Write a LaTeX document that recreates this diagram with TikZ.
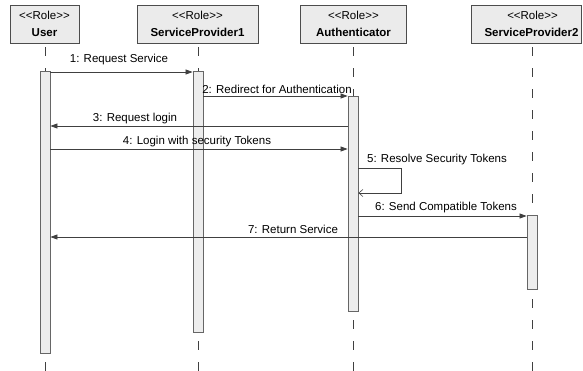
\documentclass[tikz,border=0pt]{standalone}
\usepackage{fontspec}
\setmainfont{Liberation Sans}
\usetikzlibrary{arrows.meta}
\begin{document}
\begin{tikzpicture}[x=1pt,y=-1pt,
  role/.style={draw=black!70,fill=black!8,line width=0.9pt,inner sep=0pt,align=center,
    font=\fontsize{11.5}{17}\selectfont},
  bar/.style={draw=black!60,fill=black!7,line width=0.8pt,inner sep=0pt,minimum width=10pt,anchor=north},
  life/.style={draw=black!75,line width=0.7pt,dash pattern=on 9pt off 12pt},
  msg/.style={draw=black!75,line width=0.7pt,-{Triangle[length=7pt,width=5pt]}},
  ret/.style={draw=black!75,line width=0.6pt,-{Straight Barb[length=4pt,width=7pt]}},
  txt/.style={font=\fontsize{11.5}{14}\selectfont,anchor=base,inner sep=0pt}]
\useasboundingbox (0,0) rectangle (583,370);
\coordinate (bot) at (0,372);
\node[role,minimum width=69pt,minimum height=38pt] (user) at (44.5,24) {<{}<Role>{}>\\\textbf{User}};
\node[role,minimum width=121pt,minimum height=38pt] (sp1) at (197.5,24) {<{}<Role>{}>\\\textbf{ServiceProvider1}};
\node[role,minimum width=106pt,minimum height=38pt] (auth) at (353.5,24) {<{}<Role>{}>\\\textbf{Authenticator}};
\node[role,minimum width=110pt,minimum height=38pt] (sp2) at (526.5,24) {\hspace*{12pt}<{}<Role>{}>\\\hspace*{10pt}\textbf{ServiceProvider2}};
\draw[life] ([yshift=-4pt]user.south -| 45,0) -- (bot -| 45,0);
\draw[life] ([yshift=-4pt]sp1.south -| 198,0) -- (bot -| 198,0);
\draw[life] ([yshift=-4pt]auth.south -| 353,0) -- (bot -| 353,0);
\draw[life] ([yshift=-4pt]sp2.south -| 532,0) -- (bot -| 532,0);
\node[bar,minimum height=282pt] (userbar) at (45,71) {};
\node[bar,minimum height=261pt] (sp1bar) at (198,71) {};
\node[bar,minimum height=215pt] (authbar) at (353,96) {};
\node[bar,minimum height=74pt] (sp2bar) at (532,215) {};
\coordinate (m1) at (0,72);
\coordinate (m2) at (0,96);
\coordinate (m3) at (0,126);
\coordinate (m4) at (0,149);
\coordinate (m5a) at (401,168);
\coordinate (m5b) at (401,193);
\coordinate (m6) at (0,216);
\coordinate (m7) at (0,237);
\draw[msg] (userbar.east |- m1) -- (sp1bar.west |- m1);
\draw[msg] (sp1bar.east |- m2) -- (authbar.west |- m2);
\draw[msg] (authbar.west |- m3) -- (userbar.east |- m3);
\draw[msg] (userbar.east |- m4) -- (authbar.west |- m4);
\draw[ret] (authbar.east |- m5a) -- (m5a) -- (m5b) -- (authbar.east |- m5b);
\draw[msg] (authbar.east |- m6) -- (sp2bar.west |- m6);
\draw[msg] (sp2bar.west |- m7) -- (userbar.east |- m7);
\node[txt] (l1) at (119,62) {1: Request Service};
\node[txt] (l2) at (277,93) {2: Redirect for Authentication};
\node[txt] (l3) at (135,121) {3: Request login};
\node[txt] (l4) at (197,144) {4: Login with security Tokens};
\node[txt] (l5) at (437,162) {5: Resolve Security Tokens};
\node[txt] (l6) at (446,210) {6: Send Compatible Tokens};
\node[txt] (l7) at (293,233) {7: Return Service};
\end{tikzpicture}
\end{document}
